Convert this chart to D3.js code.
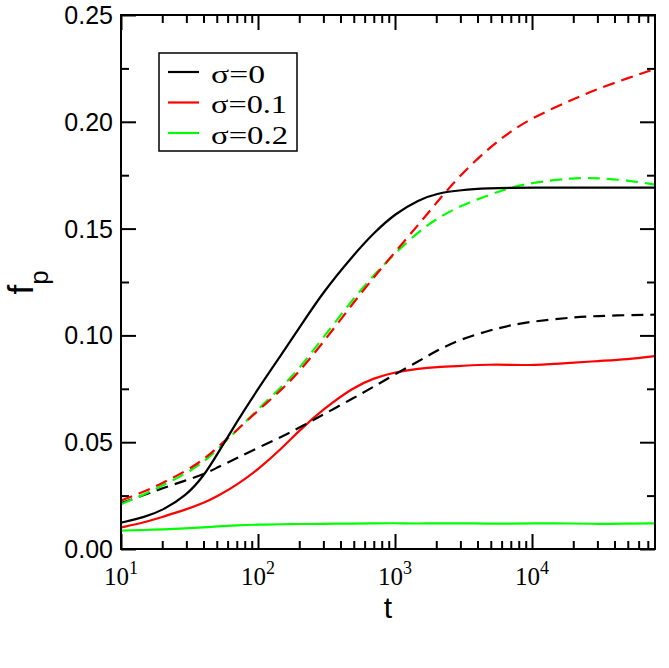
<!DOCTYPE html>
<html><head><meta charset="utf-8">
<script src="https://cdn.jsdelivr.net/npm/d3@7"></script>
<style>body{margin:0;background:#fff}</style>
</head><body><svg id="c" width="669" height="668"></svg>
<script>
// ---- data ----
const tValues = [10,15,20,30,40,50,70,100,150,200,300,500,700,1000,1500,2000,3000,5000,7000,10000,20000,30000,50000,79000];
const sigma0Solid  = [0.0123,0.0150,0.0180,0.0250,0.0340,0.0440,0.0595,0.0750,0.0915,0.1035,0.1205,0.1378,0.1480,0.1570,0.1636,0.1664,0.1681,0.1689,0.1691,0.1692,0.1692,0.1692,0.1692,0.1692];
const sigma0Dashed = [0.0214,0.0255,0.0284,0.0322,0.0349,0.0380,0.0425,0.0474,0.0527,0.0567,0.0630,0.0707,0.0760,0.0818,0.0880,0.0928,0.0982,0.1025,0.1048,0.1065,0.1085,0.1091,0.1095,0.1097];
const sigma1Solid  = [0.0101,0.0125,0.0150,0.0185,0.0215,0.0245,0.0300,0.0372,0.0472,0.0555,0.0655,0.0758,0.0800,0.0828,0.0845,0.0852,0.0857,0.0864,0.0862,0.0860,0.0872,0.0880,0.0888,0.0903];
const sigma1Dashed = [0.0227,0.0270,0.0308,0.0366,0.0418,0.0472,0.0556,0.0648,0.0748,0.0830,0.0968,0.1155,0.1272,0.1390,0.1522,0.1620,0.1752,0.1885,0.1955,0.2018,0.2107,0.2153,0.2205,0.2247];
const sigma2Solid  = [0.0086,0.0089,0.0092,0.0097,0.0101,0.0106,0.0111,0.0114,0.0116,0.0117,0.0118,0.0119,0.0120,0.0121,0.0119,0.0120,0.0120,0.0119,0.0119,0.0120,0.0120,0.0117,0.0119,0.0120];
const sigma2Dashed = [0.0210,0.0257,0.0296,0.0354,0.0407,0.0463,0.0555,0.0655,0.0760,0.0845,0.0990,0.1175,0.1282,0.1385,0.1488,0.1545,0.1608,0.1660,0.1693,0.1715,0.1738,0.1737,0.1726,0.1706];

const seriesLabels = ["σ=0","σ=0.1","σ=0.2"];
const seriesColors = ["#000000","#ff0000","#00ff00"];
const xMajorTicks = [10,100,1000,10000];
const xTickExponents = ["1","2","3","4"];
const yMajorTicks = [0,0.05,0.10,0.15,0.20,0.25];
const yTickLabels = ["0.00","0.05","0.10","0.15","0.20","0.25"];
const xAxisTitle = "t";

// ---- layout ----
const L=121,R=655,T=15,B=549;
const svg = d3.select("#c");
svg.append("rect").attr("width",669).attr("height",668).attr("fill","#fff");

const x = d3.scaleLog().domain([10,79000]).range([L,R]);
const y = d3.scaleLinear().domain([0,0.25]).range([B,T]);

const xMinor = [];
xMajorTicks.forEach(d=>{ for(let k=2;k<=9;k++){ const v=d*k; if(v<=79000) xMinor.push(v);} });
const yMinor = yMajorTicks.slice(0,-1).map(v=>v+0.025);

function styleAxis(g){ g.select(".domain").remove(); g.selectAll("line").attr("stroke","#000").attr("stroke-width",2); }

svg.append("g").attr("transform",`translate(0,${B})`).call(d3.axisBottom(x).tickValues(xMajorTicks).tickSize(-15).tickFormat("")).call(styleAxis);
svg.append("g").attr("transform",`translate(0,${B})`).call(d3.axisBottom(x).tickValues(xMinor).tickSize(-8).tickFormat("")).call(styleAxis);
svg.append("g").attr("transform",`translate(0,${T})`).call(d3.axisTop(x).tickValues(xMajorTicks).tickSize(-15).tickFormat("")).call(styleAxis);
svg.append("g").attr("transform",`translate(0,${T})`).call(d3.axisTop(x).tickValues(xMinor).tickSize(-8).tickFormat("")).call(styleAxis);
svg.append("g").attr("transform",`translate(${L},0)`).call(d3.axisLeft(y).tickValues(yMajorTicks).tickSize(-15).tickFormat("")).call(styleAxis);
svg.append("g").attr("transform",`translate(${L},0)`).call(d3.axisLeft(y).tickValues(yMinor).tickSize(-8).tickFormat("")).call(styleAxis);
svg.append("g").attr("transform",`translate(${R},0)`).call(d3.axisRight(y).tickValues(yMajorTicks).tickSize(-15).tickFormat("")).call(styleAxis);
svg.append("g").attr("transform",`translate(${R},0)`).call(d3.axisRight(y).tickValues(yMinor).tickSize(-8).tickFormat("")).call(styleAxis);

// ---- curves ----
svg.append("clipPath").attr("id","clip").append("rect").attr("x",L).attr("y",T).attr("width",R-L).attr("height",B-T);
const line = d3.line().x((d,i)=>x(tValues[i])).y(d=>y(d)).curve(d3.curveBasis);
const curves = [
  {v:sigma2Solid,c:seriesColors[2],dash:null},
  {v:sigma1Solid,c:seriesColors[1],dash:null},
  {v:sigma0Dashed,c:seriesColors[0],dash:"12,7"},
  {v:sigma2Dashed,c:seriesColors[2],dash:"12,7"},
  {v:sigma1Dashed,c:seriesColors[1],dash:"12,7"},
  {v:sigma0Solid,c:seriesColors[0],dash:null}
];
const cg = svg.append("g").attr("clip-path","url(#clip)");
curves.forEach(s=>{
  cg.append("path").attr("d",line(s.v)).attr("fill","none").attr("stroke",s.c)
    .attr("stroke-width",2.2).attr("stroke-dasharray",s.dash);
});

// ---- frame ----
svg.append("rect").attr("x",L).attr("y",T).attr("width",R-L).attr("height",B-T)
  .attr("fill","none").attr("stroke","#000").attr("stroke-width",2);

// ---- tick labels ----
svg.append("g").selectAll("text").data(yMajorTicks).join("text")
  .attr("x",113).attr("y",d=>y(d)).attr("dy","0.36em").attr("text-anchor","end")
  .attr("font-family","'Liberation Sans', Arial, sans-serif").attr("font-size",25)
  .text((d,i)=>yTickLabels[i]);

const xl = svg.append("g").selectAll("text").data(xMajorTicks).join("text")
  .attr("x",d=>x(d)).attr("y",585).attr("text-anchor","middle")
  .attr("font-family","'Liberation Serif', 'Times New Roman', serif").attr("font-size",25);
xl.append("tspan").text("10");
xl.append("tspan").attr("dy",-11).attr("font-size",18).text((d,i)=>xTickExponents[i]);

// ---- axis titles ----
svg.append("text").attr("x",(L+R)/2).attr("y",618).attr("text-anchor","middle")
  .attr("font-family","'Liberation Sans', Arial, sans-serif").attr("font-size",30).text(xAxisTitle);

const yt = svg.append("text").attr("transform","translate(33,282.5) rotate(-90)").attr("text-anchor","middle")
  .attr("font-family","'Liberation Sans', Arial, sans-serif").attr("font-size",35);
yt.append("tspan").text("f");
yt.append("tspan").attr("dy",15).attr("font-size",26).text("p");

// ---- legend ----
const lg = svg.append("g");
lg.append("rect").attr("x",159).attr("y",53).attr("width",138).attr("height",98)
  .attr("fill","#fff").attr("stroke","#000").attr("stroke-width",1.5);
const rowY = [72,102.5,133];
const textLen = [54,76,77];
seriesLabels.forEach((lab,i)=>{
  lg.append("line").attr("x1",168).attr("x2",199).attr("y1",rowY[i]).attr("y2",rowY[i])
    .attr("stroke",seriesColors[i]).attr("stroke-width",2.2);
  lg.append("text").attr("x",211).attr("y",rowY[i]+10.5).attr("font-family","'Liberation Serif', 'Times New Roman', serif")
    .attr("font-size",25).attr("textLength",textLen[i]).attr("lengthAdjust","spacingAndGlyphs").text(lab);
});
</script></body></html>
